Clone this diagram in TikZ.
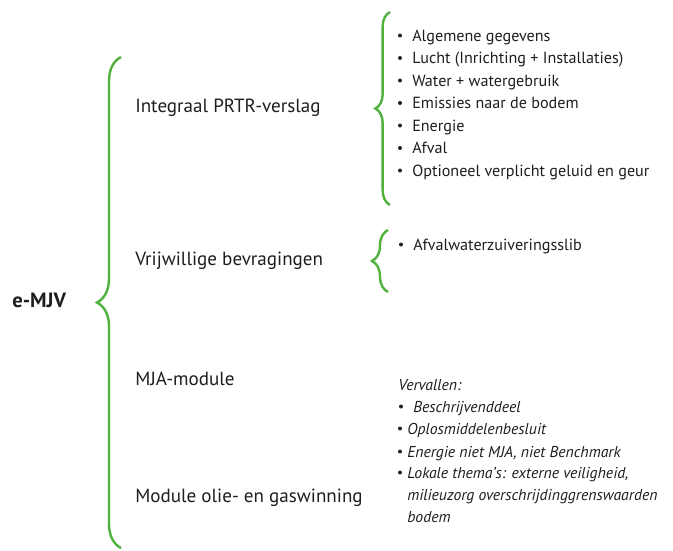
\documentclass[tikz,border=0pt]{standalone}
\usepackage{fontspec}
\setmainfont{PT Sans}
\usetikzlibrary{decorations.pathreplacing}
\definecolor{mjvgreen}{RGB}{80,178,60}
\definecolor{txt}{RGB}{30,30,30}

\begin{document}
\begin{tikzpicture}[x=0.75pt,y=-0.75pt]
  \tikzset{
    brc/.style={draw=mjvgreen, line width=1.8pt, decorate},
    lbl/.style={inner sep=0pt, anchor=base west, text=txt, font=\fontsize{14.3}{16}\selectfont},
    itm/.style={inner sep=0pt, anchor=base west, text=txt, font=\fontsize{12.1}{14}\selectfont},
    itl/.style={itm, font=\fontsize{11.8}{14}\selectfont\itshape},
    dot/.style={circle, fill=txt, minimum size=3pt, inner sep=0pt}
  }
  \useasboundingbox (0,0) rectangle (673,550);

  % root
  \node[lbl, font=\fontsize{15.5}{17}\selectfont\bfseries] (emjv) at (12,307) {e-MJV};

  % main brace
  \draw[brc, decoration={brace, amplitude=18pt}] (121,548) -- (121,57);

  % modules
  \node[lbl] (prtr) at (135,112) {Integraal PRTR-verslag};
  \node[lbl] (vrij) at (135,265) {Vrijwillige bevragingen};
  \node[lbl] (mja)  at (135,385) {MJA-module};
  \node[lbl] (olie) at (135,502) {Module olie- en gaswinning};

  % PRTR items
  \draw[brc, decoration={brace, amplitude=11pt}] (390,205) -- (390,12);
  \foreach \t [count=\k] in {Algemene gegevens, Lucht (Inrichting + Installaties),
      Water + watergebruik, Emissies naar de bodem, Energie, Afval,
      Optioneel verplicht geluid en geur} {
    \node[itm] (prtr\k) at (412,{18.5+22.5*\k}) {\t};
    \node[dot] at (400,{13+22.5*\k}) {};
  }

  % vrijwillige items
  \draw[brc, decoration={brace, amplitude=12pt}] (388,292) -- (388,230);
  \node[itm] (slib) at (413,250) {Afvalwaterzuiveringsslib};
  \node[dot] at (401,244.5) {};

  % vervallen
  \node[itl] (verv) at (398,390) {Vervallen:};
  \node[itl] (besch) at (413,412) {Beschrijvenddeel};
  \node[dot] at (401,406.5) {};
  \node[itl] (oplos) at (407,434) {Oplosmiddelenbesluit};
  \node[dot] at (400,428.5) {};
  \node[itl] (energ) at (407,457) {Energie niet MJA, niet Benchmark};
  \node[dot] at (400,451.5) {};
  \node[itl] (lokaal) at (407,478) {Lokale thema’s: externe veiligheid,};
  \node[dot] at (400,472.5) {};
  \node[itl] (milieu) at (407,500) {milieuzorg overschrijdinggrenswaarden};
  \node[itl] (bodem) at (407,522) {bodem};
\end{tikzpicture}
\end{document}
